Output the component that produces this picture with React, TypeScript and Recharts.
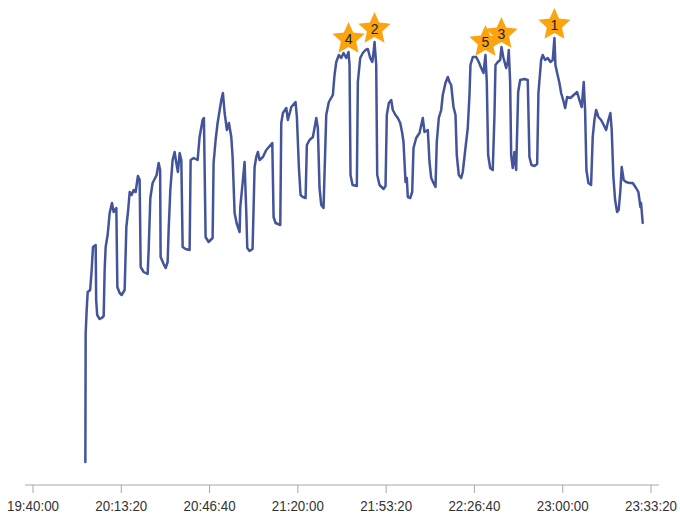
import React from "react";
import { LineChart, Line, XAxis, YAxis } from "recharts";

// Seconds elapsed after 19:40:00 for each sample
const elapsedSec = [
  1186, 1193, 1216, 1239, 1295, 1329, 1359, 1420, 1431, 1454,
  1510, 1556, 1601, 1623, 1646, 1691, 1737, 1789, 1827, 1888,
  1911, 1963, 2008, 2076, 2115, 2156, 2190, 2235, 2280, 2325,
  2377, 2416, 2439, 2507, 2597, 2620, 2658, 2710, 2801, 2846,
  2880, 2891, 2959, 3005, 3050, 3073, 3111, 3163, 3208, 3247,
  3283, 3322, 3360, 3390, 3457, 3548, 3571, 3639, 3729, 3774,
  3842, 3872, 3910, 3978, 4069, 4091, 4137, 4182, 4266, 4302,
  4341, 4393, 4438, 4492, 4522, 4567, 4612, 4680, 4696, 4755,
  4793, 4832, 4854, 4907, 4974, 5020, 5058, 5095, 5133, 5208,
  5285, 5421, 5450, 5495, 5602, 5624, 5661, 5738, 5774, 5851,
  5948, 5978, 6023, 6061, 6113, 6175, 6204, 6265, 6340, 6378,
  6417, 6453, 6491, 6530, 6582, 6643, 6702, 6793, 6831, 6870,
  6929, 6983, 7035, 7096, 7148, 7171, 7193, 7239, 7336, 7359,
  7413, 7472, 7533, 7585, 7639, 7685, 7714, 7737, 7775, 7798,
  7850, 7941, 7986, 8015, 8061, 8115, 8151, 8212, 8264, 8319,
  8364, 8393, 8439, 8468, 8491, 8545, 8590, 8620, 8681, 8756,
  8830, 8869, 8944, 8982, 9021, 9073, 9118, 9147, 9193, 9247,
  9283, 9344, 9396, 9435, 9473, 9526, 9571, 9600, 9646, 9700,
  9736, 9797, 9849, 9888, 9910, 9963, 10040, 10098, 10153, 10205,
  10250, 10280, 10311, 10357, 10415, 10454, 10477, 10529, 10583, 10612,
  10658, 10719, 10755, 10778, 10809, 10832, 10868, 10907, 10945, 10991,
  11036, 11133, 11208, 11246, 11292, 11360, 11421, 11450, 11511, 11547,
  11602, 11661, 11722, 11774, 11812, 11835, 11874, 11926, 11964, 12023,
  12055, 12100, 12175, 12249, 12326, 12378, 12431, 12476, 12507, 12537,
  12582, 12643, 12680, 12718, 12757, 12809, 12870, 12929, 12983, 13035,
  13080, 13110, 13148, 13187, 13232, 13268, 13307, 13336, 13381, 13436,
  13511, 13585, 13662, 13714, 13760, 13775, 13812,
];

const values = [
  23, 152, 175, 193, 195, 215, 238, 240, 185, 170,
  166, 167, 169, 215, 238, 250, 272, 282, 273, 277,
  198, 192, 190, 195, 258, 275, 293, 290, 295, 293,
  309, 305, 218, 213, 211, 235, 287, 302, 310, 322,
  315, 228, 221, 217, 223, 255, 295, 325, 333, 322,
  313, 332, 325, 238, 236, 235, 325, 327, 325, 348,
  365, 367, 248, 243, 247, 322, 345, 362, 385, 392,
  372, 355, 362, 348, 328, 272, 262, 253, 278, 305,
  323, 272, 237, 234, 236, 318, 328, 333, 325, 328,
  335, 342, 268, 262, 260, 362, 372, 377, 365, 378,
  383, 368, 318, 290, 288, 287, 340, 345, 348, 357,
  367, 357, 297, 280, 277, 370, 383, 390, 410, 423,
  430, 427, 432, 427, 433, 420, 310, 300, 299, 403,
  427, 432, 435, 436, 427, 423, 432, 443, 420, 310,
  300, 296, 299, 370, 382, 385, 375, 370, 367, 362,
  352, 343, 303, 307, 288, 287, 293, 337, 347, 352,
  367, 353, 355, 323, 307, 302, 298, 343, 367, 375,
  390, 402, 408, 403, 400, 378, 370, 330, 310, 307,
  313, 337, 357, 390, 420, 428, 428, 423, 417, 412,
  430, 403, 330, 317, 315, 370, 420, 423, 425, 438,
  427, 417, 423, 435, 403, 330, 317, 333, 315, 393,
  405, 406, 405, 328, 320, 319, 321, 392, 425, 430,
  425, 427, 423, 425, 447, 420, 412, 402, 392, 383,
  377, 388, 387, 390, 393, 385, 378, 403, 375, 315,
  302, 300, 348, 365, 375, 368, 365, 360, 355, 365,
  372, 355, 308, 285, 273, 275, 295, 318, 305, 303,
  302, 302, 297, 293, 278, 282, 262,
];

// Ranked peaks (star markers)
const peakRanks = [1, 2, 3, 4, 5];
const peakSec = [11812, 7737, 10612, 7148, 10250];

// X axis ticks
const tickSec = [0, 2000, 4000, 6000, 8000, 10000, 12000, 14000];
const tickLabels = [
  "19:40:00", "20:13:20", "20:46:40", "21:20:00",
  "21:53:20", "22:26:40", "23:00:00", "23:33:20",
];

const data = elapsedSec.map((t, i) => {
  const p = peakSec.indexOf(t);
  return { t, v: values[i], rank: p >= 0 ? peakRanks[p] : null };
});

function starPoints(cx: number, cy: number, R: number, r: number) {
  const pts: string[] = [];
  for (let k = 0; k < 10; k++) {
    const ang = -Math.PI / 2 + (k * Math.PI) / 5;
    const rad = k % 2 === 0 ? R : r;
    pts.push(`${(cx + rad * Math.cos(ang)).toFixed(2)},${(cy + rad * Math.sin(ang)).toFixed(2)}`);
  }
  return pts.join(" ");
}

const renderDot = (props: any) => {
  const { cx, cy, payload, index } = props;
  if (!payload || payload.rank == null || cx == null || cy == null) {
    return <g key={`d-${index}`} />;
  }
  const sy = cy - 13;
  return (
    <g key={`d-${index}`}>
      <polygon points={starPoints(cx, sy, 17, 8)} fill="#FBA40F" stroke="none" />
      <text
        x={cx}
        y={sy}
        dy="0.36em"
        textAnchor="middle"
        fontSize={14}
        fontFamily="'Liberation Sans', Arial, sans-serif"
        fill="#222"
      >
        {payload.rank}
      </text>
    </g>
  );
};

const Tick = (props: any) => {
  const { x, y, payload } = props;
  const idx = tickSec.indexOf(payload.value);
  return (
    <text
      x={x}
      y={y}
      dy={15.5}
      textAnchor="middle"
      fontSize={14}
      fontFamily="'Liberation Sans', Arial, sans-serif"
      fill="#333"
      textLength={52}
      lengthAdjust="spacingAndGlyphs"
    >
      {idx >= 0 ? tickLabels[idx] : ""}
    </text>
  );
};

export default function App() {
  return (
    <div style={{ position: "absolute", left: 0, top: 0, background: "#fff" }}>
      <LineChart
        width={680}
        height={517}
        data={data}
        margin={{ top: 13, right: 21, left: 25, bottom: 2 }}
      >
        <XAxis
          dataKey="t"
          type="number"
          domain={[0, 14000]}
          ticks={tickSec}
          padding={{ left: 8, right: 8 }}
          height={30}
          tickSize={8}
          stroke="#a8a8a8"
          tick={<Tick />}
          interval={0}
        />
        <YAxis hide domain={[0, 472]} type="number" />
        <Line
          type="linear"
          dataKey="v"
          stroke="#43549b"
          strokeWidth={2.5}
          strokeLinejoin="round"
          strokeLinecap="round"
          dot={renderDot}
          activeDot={false}
          isAnimationActive={false}
        />
      </LineChart>
    </div>
  );
}
